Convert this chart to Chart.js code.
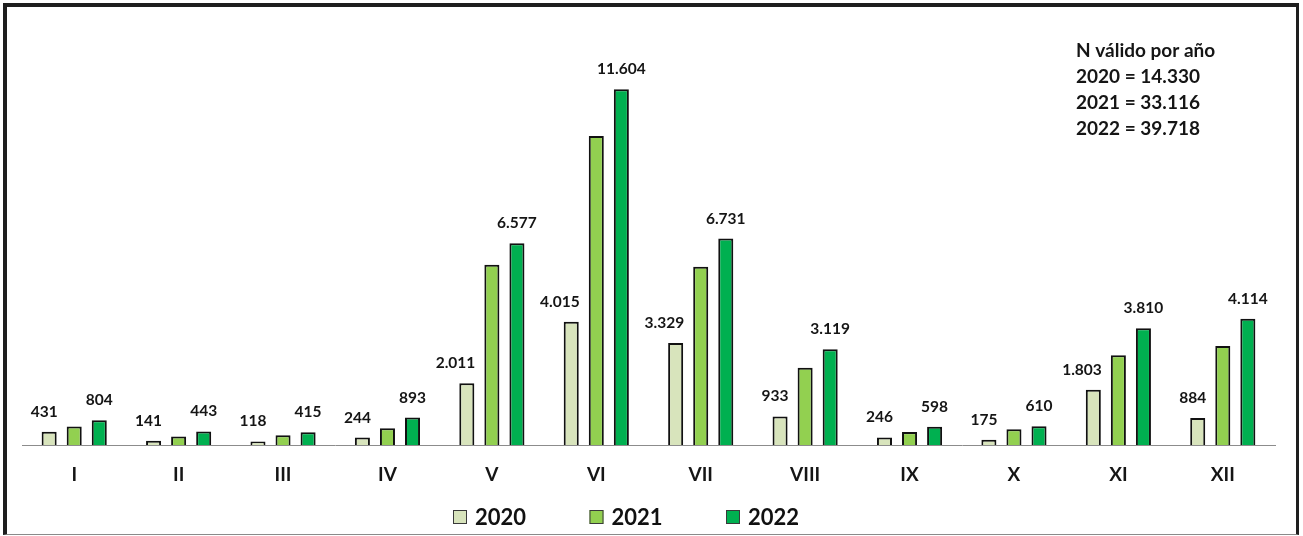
<!DOCTYPE html>
<html>
<head>
<meta charset="utf-8">
<script src="https://cdn.jsdelivr.net/npm/chart.js@4/dist/chart.umd.min.js"></script>
<style>
  html, body { margin: 0; padding: 0; background: #fff; }
  #wrap { position: relative; width: 1303px; height: 536px; overflow: hidden; }
  #c { position: absolute; left: 0; top: 0; }
  #frame { position: absolute; left: 3px; top: 3px; width: 1296px; height: 532px; box-sizing: border-box;
           border-top: 4px solid #1e1e1e; border-left: 4px solid #1e1e1e; border-right: 3px solid #1e1e1e;
           border-bottom: 1px solid #8a8a8a; pointer-events: none; }
</style>
</head>
<body>
<div id="wrap">
  <canvas id="c" width="1303" height="536"></canvas>
  <div id="frame"></div>
</div>
<script>
const categories = ['I','II','III','IV','V','VI','VII','VIII','IX','X','XI','XII'];
const seriesNames = ['2020','2021','2022'];
const values2020 = [431,141,118,244,2011,4015,3329,933,246,175,1803,884];
const values2021 = [600,280,320,550,5880,10080,5810,2520,420,515,2930,3230];
const values2022 = [804,443,415,893,6577,11604,6731,3119,598,610,3810,4114];
const totalsTitle = 'N válido por año';
const totalsLines = ['2020 = 14.330','2021 = 33.116','2022 = 39.718'];
const colors = ['#D8E4BC','#92D050','#00B050'];

const fmt = v => String(v).replace(/\B(?=(\d{3})+(?!\d))/g, '.');
const FONT = 'Lato, "Open Sans", sans-serif';

const labelPlugin = {
  id: 'valueLabels',
  afterDatasetsDraw(chart) {
    const ctx = chart.ctx;
    ctx.save();
    ctx.fillStyle = '#151515';
    ctx.font = 'bold 15.5px ' + FONT;
    ctx.textBaseline = 'middle';
    [0, 2].forEach(di => {
      const meta = chart.getDatasetMeta(di);
      meta.data.forEach((bar, i) => {
        const v = chart.data.datasets[di].data[i];
        const p = bar.getProps(['x','y','width'], true);
        if (di === 0) {
          ctx.textAlign = 'right';
          ctx.fillText(fmt(v), p.x + p.width / 2 + 1, p.y - 20);
        } else {
          ctx.textAlign = 'center';
          ctx.fillText(fmt(v), p.x, p.y - 20);
        }
      });
    });
    ctx.restore();
  }
};

const extrasPlugin = {
  id: 'extras',
  afterDraw(chart) {
    const ctx = chart.ctx;
    ctx.save();
    // totals box
    ctx.fillStyle = '#151515';
    ctx.font = 'bold 19px ' + FONT;
    ctx.textAlign = 'left';
    ctx.textBaseline = 'middle';
    ctx.fillText(totalsTitle, 1076, 51);
    totalsLines.forEach((t, i) => ctx.fillText(t, 1076, 77 + i * 26));
    // legend
    const startX = 453, step = 136.5, y = 517;
    ctx.font = 'bold 22px ' + FONT;
    chart.data.datasets.forEach((ds, i) => {
      const x = startX + i * step;
      ctx.fillStyle = ds.backgroundColor;
      ctx.fillRect(x, y - 7, 14, 14);
      ctx.strokeStyle = '#3a3a3a';
      ctx.lineWidth = 1;
      ctx.strokeRect(x + 0.5, y - 6.5, 13, 13);
      ctx.fillStyle = '#111';
      ctx.fillText(ds.label, x + 22, y + 1);
    });
    ctx.restore();
  }
};

new Chart(document.getElementById('c'), {
  type: 'bar',
  data: {
    labels: categories,
    datasets: [values2020, values2021, values2022].map((d, i) => ({
      label: seriesNames[i],
      data: d,
      backgroundColor: colors[i],
      borderColor: '#111',
      borderWidth: 2,
      categoryPercentage: 0.72,
      barPercentage: 0.6
    }))
  },
  options: {
    responsive: false,
    animation: false,
    layout: { padding: { left: 22, right: 28, top: 77, bottom: 51 } },
    plugins: { legend: { display: false }, tooltip: { enabled: false } },
    scales: {
      x: {
        grid: { display: false, drawTicks: false },
        border: { display: true, color: '#8c8c8c', width: 1 },
        ticks: { color: '#151515', font: { family: FONT, size: 19, weight: 'bold' }, padding: 18 },
        afterFit(s) { s.height = 40; }
      },
      y: { display: false, min: 0, max: 12000 }
    }
  },
  plugins: [labelPlugin, extrasPlugin]
});
</script>
</body>
</html>
